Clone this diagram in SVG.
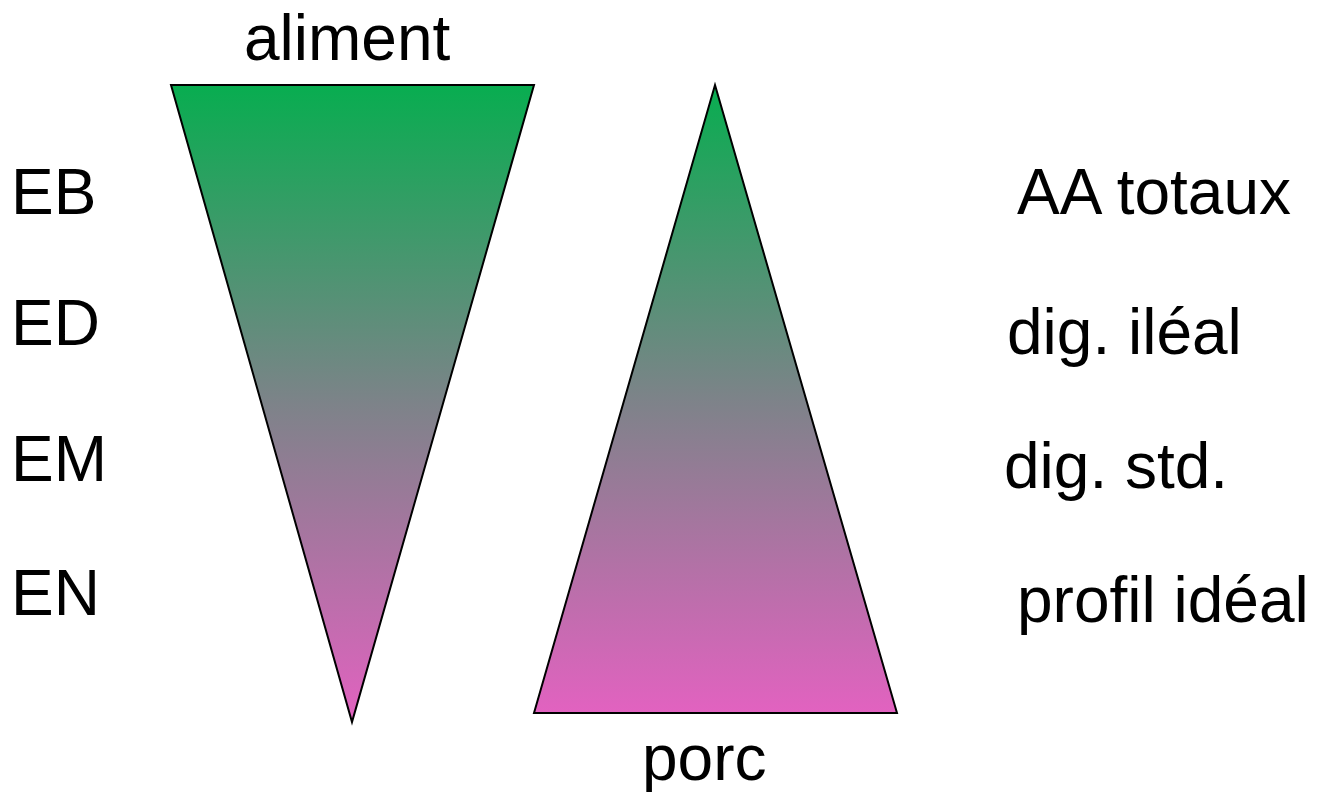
<svg xmlns="http://www.w3.org/2000/svg" width="1317" height="792" viewBox="0 0 1317 792">
<style>
text { font-family: "Liberation Sans", Arial, sans-serif; font-size: 64px; fill: #000; }
.tri { stroke: #000; stroke-width: 2; stroke-linejoin: miter; }
</style>
<defs>
<linearGradient id="gL" x1="0" y1="85" x2="0" y2="722" gradientUnits="userSpaceOnUse">
<stop offset="0" stop-color="#08ad50"/>
<stop offset="0.5" stop-color="#7d8389"/>
<stop offset="1" stop-color="#e262c0"/>
</linearGradient>
<linearGradient id="gR" x1="0" y1="85" x2="0" y2="713" gradientUnits="userSpaceOnUse">
<stop offset="0" stop-color="#08ad50"/>
<stop offset="0.5" stop-color="#7d8389"/>
<stop offset="1" stop-color="#e262c0"/>
</linearGradient>
</defs>
<g id="aliment">
<polygon class="tri" points="171,85 534,85 352,722" fill="url(#gL)"/>
<text x="244" y="60">aliment</text>
</g>
<g id="porc">
<polygon class="tri" points="715,85 897,713 534,713" fill="url(#gR)"/>
<text x="642" y="780">porc</text>
</g>
<g id="labels-left">
<text x="11" y="214">EB</text>
<text x="11" y="345">ED</text>
<text x="11" y="481">EM</text>
<text x="11" y="615">EN</text>
</g>
<g id="labels-right">
<text x="1017" y="214">AA totaux</text>
<text x="1007" y="354">dig. iléal</text>
<text x="1004" y="488">dig. std.</text>
<text x="1017" y="622">profil idéal</text>
</g>
<g id="connectors"></g>
</svg>
